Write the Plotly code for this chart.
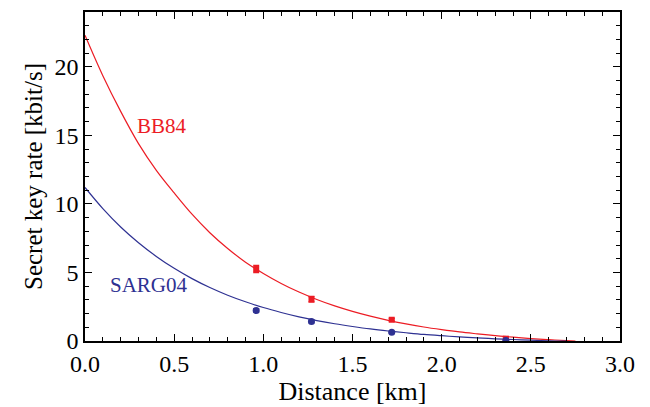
import plotly.graph_objects as go

# Fitted curves
curve_x = [0.0, 0.1, 0.2, 0.3, 0.4, 0.5, 0.6, 0.7, 0.8, 0.9, 1.0, 1.1, 1.2, 1.3, 1.4,
           1.5, 1.6, 1.7, 1.8, 1.9, 2.0, 2.1, 2.2, 2.3, 2.4, 2.5, 2.6, 2.7]
bb84_curve = [22.3, 19.35, 16.75, 14.4, 12.45, 10.8, 9.25, 7.9, 6.75, 5.75, 4.93, 4.2, 3.57,
              3.03, 2.56, 2.16, 1.81, 1.51, 1.25, 1.02, 0.83, 0.66, 0.52, 0.39, 0.28, 0.18,
              0.10, 0.03]
bb84_end_x = [2.75]
bb84_end_y = [0.0]
sarg_curve = [11.2, 9.66, 8.32, 7.17, 6.17, 5.3, 4.55, 3.9, 3.34, 2.86, 2.44, 2.08, 1.76,
              1.49, 1.26, 1.06, 0.88, 0.73, 0.6, 0.48, 0.385, 0.3, 0.23, 0.16, 0.11, 0.06,
              0.02, 0.0]

# Measured points
meas_x = [0.96, 1.27, 1.72, 2.36]
bb84_pts = [5.25, 3.05, 1.55, 0.17]
bb84_err = [0.25, 0.2, 0.1, 0.08]
sarg_pts = [2.23, 1.43, 0.63, 0.03]
sarg_err = [0.12, 0.1, 0.07, 0.05]

RED = "#ec1c24"
BLUE = "#2e3192"
FONT = "Liberation Serif, Times New Roman, serif"

fig = go.Figure()
fig.add_trace(go.Scatter(x=curve_x + bb84_end_x, y=bb84_curve + bb84_end_y, mode="lines",
                         line=dict(color=RED, width=1.2, shape="spline"), showlegend=False))
fig.add_trace(go.Scatter(x=curve_x, y=sarg_curve, mode="lines",
                         line=dict(color=BLUE, width=1.2, shape="spline"), showlegend=False))
fig.add_trace(go.Scatter(x=meas_x, y=bb84_pts, mode="markers",
                         marker=dict(symbol="square", size=6, color=RED),
                         error_y=dict(type="data", array=bb84_err, color=RED, thickness=1.5, width=3),
                         showlegend=False))
fig.add_trace(go.Scatter(x=meas_x, y=sarg_pts, mode="markers",
                         marker=dict(symbol="circle", size=7, color=BLUE),
                         error_y=dict(type="data", array=sarg_err, color=BLUE, thickness=1.5, width=3),
                         showlegend=False))

fig.add_annotation(x=0.43, y=15.7, text="BB84", showarrow=False,
                   font=dict(family=FONT, size=21, color=RED))
fig.add_annotation(x=0.36, y=4.1, text="SARG04", showarrow=False,
                   font=dict(family=FONT, size=21, color=BLUE))

axis_common = dict(showline=True, linecolor="black", linewidth=1.5, mirror="ticks",
                   ticks="inside", ticklen=7, tickwidth=1.3, tickcolor="black",
                   showgrid=False, zeroline=False,
                   tickfont=dict(family=FONT, size=24, color="black"))

fig.update_xaxes(range=[0, 3], dtick=0.5, tick0=0, tickformat=".1f",
                 minor=dict(ticks="inside", ticklen=4, dtick=0.1, tickcolor="black", tickwidth=1),
                 title=dict(text="Distance [km]", font=dict(family=FONT, size=26, color="black"),
                            standoff=2),
                 **axis_common)
fig.update_yaxes(range=[0, 24], dtick=5, tick0=0,
                 minor=dict(ticks="inside", ticklen=4, dtick=1, tickcolor="black", tickwidth=1),
                 title=dict(text="Secret key rate [kbit/s]", font=dict(family=FONT, size=25, color="black"),
                            standoff=5),
                 **axis_common)

# page body has an 8px default margin; compensate so the plot area lands where the reference's does
fig.update_layout(width=642, height=399, margin=dict(l=77, r=30, t=2, b=66),
                  font=dict(family=FONT, color="black"),
                  plot_bgcolor="white", paper_bgcolor="white")

fig.write_html("out.html")
